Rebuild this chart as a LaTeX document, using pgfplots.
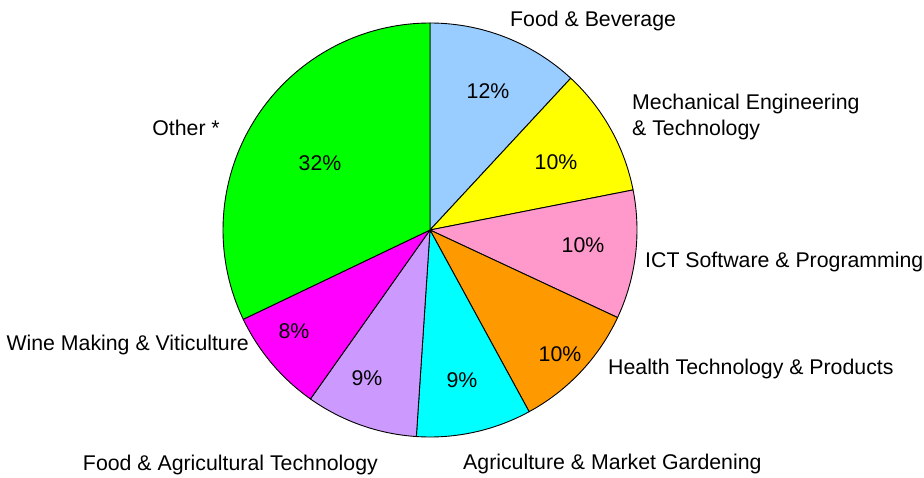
\documentclass[border=0pt]{standalone}
\usepackage{pgfplots}
\pgfplotsset{compat=1.18}
\usepackage{fontspec}
\setmainfont{Liberation Sans}
\definecolor{cFB}{RGB}{153,204,255}
\definecolor{cME}{RGB}{255,255,0}
\definecolor{cICT}{RGB}{255,153,204}
\definecolor{cHT}{RGB}{255,153,0}
\definecolor{cAG}{RGB}{0,255,255}
\definecolor{cFA}{RGB}{204,153,255}
\definecolor{cWM}{RGB}{255,0,255}
\definecolor{cOT}{RGB}{0,255,0}
\newcommand{\lf}{\fontsize{21.3}{26}\selectfont}
% slice: #1 = cumulative percent before, #2 = percent of slice, #3 = colour
\newcommand{\slice}[3]{%
  \addplot[draw=black, line width=0.9pt, fill=#3, domain={90-3.6*(#1+#2)}:{90-3.6*(#1)}, samples=90, variable=\t, line join=round]
    ({207*cos(t)},{207*sin(t)}) -- (axis cs:0,0) -- cycle;
}
\begin{document}
\begin{tikzpicture}[font=\lf]
\begin{axis}[
  x=1pt, y=1pt,
  xmin=-430, xmax=494, ymin=-247, ymax=230,
  hide axis, clip=false,
]
\path (axis cs:-430,-247) rectangle (axis cs:494,230);
\slice{0}{11.9}{cFB}
\slice{11.9}{10.0}{cME}
\slice{21.9}{10.05}{cICT}
\slice{31.95}{10.1}{cHT}
\slice{42.05}{9.0}{cAG}
\slice{51.05}{8.75}{cFA}
\slice{59.8}{8.1}{cWM}
\slice{67.9}{32.1}{cOT}
% percent labels
\node[inner sep=0pt, font=\lf] at (axis cs:58,139) {12\%};
\node[inner sep=0pt, font=\lf] at (axis cs:126,68) {10\%};
\node[inner sep=0pt, font=\lf] at (axis cs:153,-15) {10\%};
\node[inner sep=0pt, font=\lf] at (axis cs:130,-124) {10\%};
\node[inner sep=0pt, font=\lf] at (axis cs:32,-150) {9\%};
\node[inner sep=0pt, font=\lf] at (axis cs:-63,-148) {9\%};
\node[inner sep=0pt, font=\lf] at (axis cs:-136,-101) {8\%};
\node[inner sep=0pt, font=\lf] at (axis cs:-110,67) {32\%};
% category labels
\node[inner sep=0pt, font=\lf, anchor=west] at (axis cs:80,209) {Food \& Beverage};
\node[inner sep=0pt, font=\lf, anchor=west, align=left] at (axis cs:202,113) {Mechanical Engineering\\\& Technology};
\node[inner sep=0pt, font=\lf, anchor=west] at (axis cs:215,-32) {ICT Software \& Programming};
\node[inner sep=0pt, font=\lf, anchor=west] at (axis cs:178,-139) {Health Technology \& Products};
\node[inner sep=0pt, font=\lf, anchor=west] at (axis cs:33,-234) {Agriculture \& Market Gardening};
\node[inner sep=0pt, font=\lf, anchor=east] at (axis cs:-52,-235) {Food \& Agricultural Technology};
\node[inner sep=0pt, font=\lf, anchor=east] at (axis cs:-181,-115) {Wine Making \& Viticulture};
\node[inner sep=0pt, font=\lf, anchor=east] at (axis cs:-210,102) {Other *};
\end{axis}
\end{tikzpicture}
\end{document}
